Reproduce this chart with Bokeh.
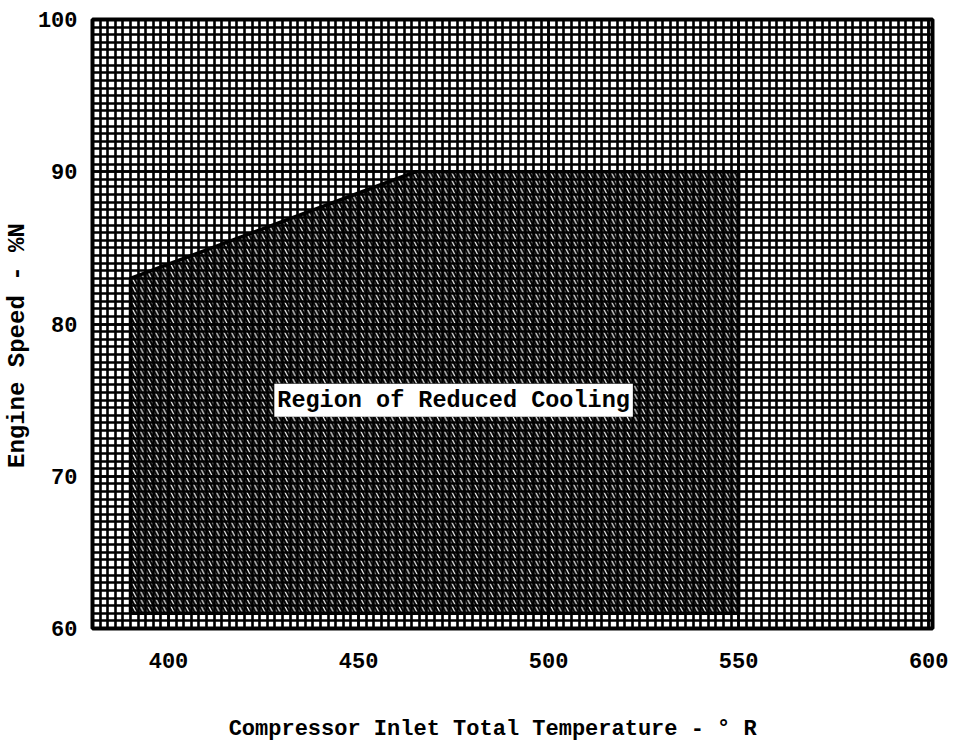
import numpy as np
from bokeh.plotting import figure
from bokeh.models import FixedTicker, Label, Range1d
from bokeh.embed import file_html
from bokeh.resources import INLINE

# data
region_x = [390, 390, 465, 550, 550]
region_y = [61, 83, 90, 90, 61]
x_ticks = [400, 450, 500, 550, 600]
y_ticks = [60, 70, 80, 90, 100]
x_minor = list(np.arange(380, 602, 2))
y_minor = list(np.arange(60, 100.01, 0.5))
label_text = "Region of Reduced Cooling"
label_pos = (475, 75)

FONT = "Liberation Mono"
NB = "\u00a0"

p = figure(width=948, height=744, output_backend="svg", toolbar_location=None,
           x_range=Range1d(380, 601), y_range=Range1d(60, 100),
           min_border_left=92, min_border_right=16, min_border_top=19, min_border_bottom=116)

p.xaxis.ticker = FixedTicker(ticks=x_ticks, minor_ticks=x_minor)
p.yaxis.ticker = FixedTicker(ticks=y_ticks, minor_ticks=y_minor)

for g in (p.xgrid, p.ygrid):
    g.grid_line_color = "black"
    g.grid_line_width = 2.6
    g.grid_line_alpha = 1
    g.minor_grid_line_color = "black"
    g.minor_grid_line_width = 2.6
    g.minor_grid_line_alpha = 1

p.outline_line_color = "black"
p.outline_line_width = 4

p.patch(region_x, region_y, fill_color=None, line_color="black", line_width=3.5,
        hatch_pattern="\\", hatch_color="black", hatch_weight=2.2, hatch_scale=7.6)

p.add_layout(Label(x=label_pos[0], y=label_pos[1], text=label_text,
                   text_font=FONT, text_font_style="bold", text_font_size="23.5px",
                   text_color="black",
                   text_align="center", text_baseline="middle",
                   background_fill_color="white", border_line_color=None,
                   padding=3))

for ax in (p.xaxis[0], p.yaxis[0]):
    ax.axis_line_color = None
    ax.major_tick_line_color = None
    ax.minor_tick_line_color = None
    ax.major_label_text_font = FONT
    ax.major_label_text_font_style = "bold"
    ax.major_label_text_font_size = "22px"
    ax.major_label_text_color = "black"
    ax.axis_label_text_font = FONT
    ax.axis_label_text_font_style = "bold"
    ax.axis_label_text_color = "black"

p.xaxis.major_label_standoff = 18
p.yaxis.major_label_standoff = 9
p.xaxis.axis_label = "Compressor Inlet Total Temperature - \u00b0 R" + NB * 3
p.xaxis.axis_label_text_font_size = "22px"
p.xaxis.axis_label_standoff = 46
p.yaxis.axis_label = "Engine Speed - %N" + NB * 3
p.yaxis.axis_label_text_font_size = "24px"
p.yaxis.axis_label_standoff = 4

open("out.html", "w").write(file_html(p, INLINE))
